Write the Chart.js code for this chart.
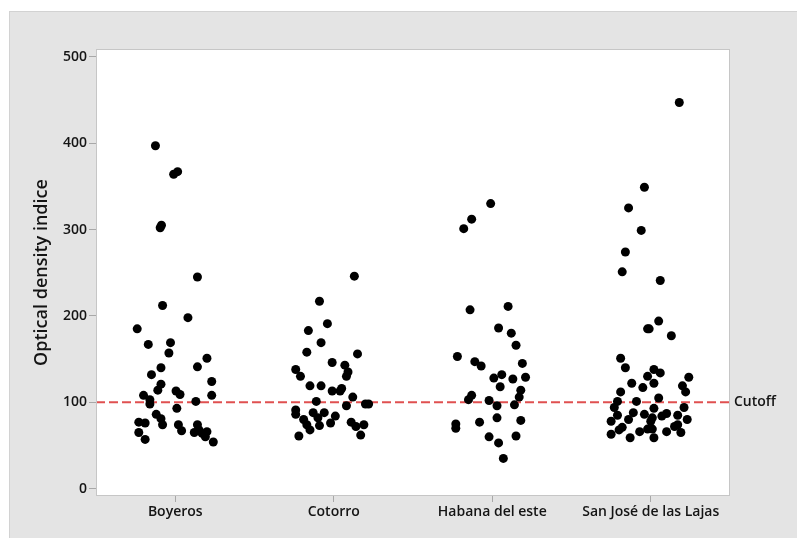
<!DOCTYPE html>
<html>
<head>
<meta charset="utf-8">
<script src="https://cdn.jsdelivr.net/npm/chart.js@4"></script>
<style>
  body { margin: 0; background: #fff; }
  #panel { position: absolute; left: 9px; top: 11px; width: 788px; height: 527px;
           background: #e4e4e4; border-left: 1px solid #d2d2d2; border-top: 1px solid #d2d2d2; }
  #wrap { position: absolute; left: 0; top: 0; width: 797px; height: 538px; }
</style>
</head>
<body>
<div id="panel"></div>
<div id="wrap"><canvas id="chart"></canvas></div>
<script>
// categories / ticks
const categories = ['Boyeros', 'Cotorro', 'Habana del este', 'San José de las Lajas'];
const yTicks = [0, 100, 200, 300, 400, 500];
const cutoff = 100;

// values, jitter = horizontal offset within a category
const boyerosValues = [397, 364, 367, 302, 305, 245, 212, 198, 185, 167, 169, 157, 151, 141, 140, 132, 124, 121, 114, 113, 109, 108, 108, 103, 98, 101, 93, 86, 81, 74, 77, 76, 74, 67, 65, 57, 74, 65, 68, 64, 66, 60, 54];
const boyerosJitter = [-0.125, -0.01, 0.015, -0.095, -0.087, 0.14, -0.08, 0.08, -0.24, -0.17, -0.03, -0.04, 0.2, 0.14, -0.09, -0.15, 0.23, -0.09, -0.11, 0.005, 0.03, 0.23, -0.2, -0.16, -0.16, 0.13, 0.01, -0.12, -0.09, -0.08, -0.23, -0.19, 0.02, 0.04, -0.23, -0.19, 0.14, 0.12, 0.15, 0.17, 0.2, 0.19, 0.24];

const cotorroValues = [246, 217, 191, 183, 169, 158, 156, 146, 143, 138, 135, 130, 130, 119, 119, 116, 113, 113, 106, 101, 96, 98, 98, 91, 86, 88, 88, 80, 82, 84, 76, 74, 73, 68, 77, 72, 74, 62, 61];
const cotorroJitter = [0.13, -0.09, -0.04, -0.16, -0.08, -0.17, 0.15, -0.01, 0.07, -0.24, 0.09, -0.21, 0.08, -0.15, -0.08, 0.05, -0.01, 0.04, 0.12, -0.11, 0.08, 0.2, 0.22, -0.24, -0.24, -0.13, -0.06, -0.19, -0.1, 0.01, -0.02, -0.17, -0.09, -0.15, 0.11, 0.14, 0.19, 0.17, -0.22];

const habanaValues = [330, 312, 301, 207, 211, 186, 180, 166, 153, 147, 142, 145, 132, 128, 127, 129, 118, 114, 106, 108, 103, 102, 96, 97, 75, 70, 77, 82, 79, 60, 53, 61, 35];
const habanaJitter = [-0.01, -0.13, -0.18, -0.14, 0.1, 0.04, 0.12, 0.15, -0.22, -0.11, -0.07, 0.19, 0.06, 0.01, 0.13, 0.21, 0.05, 0.18, 0.17, -0.13, -0.15, -0.02, 0.03, 0.14, -0.23, -0.23, -0.08, 0.03, 0.18, -0.02, 0.04, 0.15, 0.07];

const sanJoseValues = [447, 349, 325, 299, 274, 251, 241, 194, 185, 185, 177, 151, 140, 138, 134, 130, 129, 122, 122, 117, 119, 112, 112, 105, 101, 101, 94, 93, 94, 85, 88, 86, 87, 82, 84, 85, 78, 80, 80, 78, 74, 71, 69, 66, 66, 72, 65, 63, 68, 59, 69, 59];
const sanJoseJitter = [0.18, -0.04, -0.14, -0.06, -0.16, -0.18, 0.06, 0.05, -0.02, -0.01, 0.13, -0.19, -0.16, 0.02, 0.06, -0.02, 0.24, -0.12, 0.02, -0.05, 0.2, 0.22, -0.19, 0.05, -0.21, -0.09, -0.23, 0.02, 0.21, -0.21, -0.11, -0.04, 0.1, 0.01, 0.07, 0.17, -0.25, -0.14, 0.23, 0, 0.17, -0.18, 0.01, -0.07, 0.1, 0.15, 0.19, -0.25, -0.2, -0.13, -0.02, 0.02];

const groups = [
  [boyerosValues, boyerosJitter],
  [cotorroValues, cotorroJitter],
  [habanaValues, habanaJitter],
  [sanJoseValues, sanJoseJitter],
];

const FONT = '"Open Sans", "Noto Sans", sans-serif';
const TEXT = '#141414';

// 白いプロット領域・枠・カットオフ線
const plotDecor = {
  id: 'plotDecor',
  beforeDraw(chart) {
    const {ctx, chartArea: a} = chart;
    ctx.save();
    ctx.fillStyle = '#ffffff';
    ctx.fillRect(a.left, a.top, a.right - a.left, a.bottom - a.top);
    ctx.restore();
  },
  beforeDatasetsDraw(chart) {
    const {ctx, chartArea: a} = chart;
    const y = chart.scales.y.getPixelForValue(cutoff);
    ctx.save();
    ctx.strokeStyle = '#e05050';
    ctx.lineWidth = 2;
    ctx.setLineDash([9, 4]);
    ctx.beginPath();
    ctx.moveTo(a.left, y);
    ctx.lineTo(a.right, y);
    ctx.stroke();
    ctx.restore();
  },
  afterDraw(chart) {
    const {ctx, chartArea: a} = chart;
    ctx.save();
    ctx.strokeStyle = '#c6c6c6';
    ctx.lineWidth = 1;
    ctx.strokeRect(a.left + 0.5, a.top + 0.5, a.right - a.left - 1, a.bottom - a.top - 1);
    const y = chart.scales.y.getPixelForValue(cutoff);
    ctx.fillStyle = TEXT;
    ctx.font = '600 14px ' + FONT;
    ctx.textBaseline = 'middle';
    ctx.textAlign = 'left';
    ctx.fillText('Cutoff', a.right + 4, y);
    ctx.restore();
  }
};

const datasets = groups.map((g, i) => ({
  label: categories[i],
  data: g[0].map((v, k) => ({x: i + 1 + g[1][k], y: v})),
  backgroundColor: '#000',
  borderWidth: 0,
  pointRadius: 4.5,
  pointHoverRadius: 4.5,
}));

new Chart(document.getElementById('chart'), {
  type: 'scatter',
  data: {datasets: datasets},
  plugins: [plotDecor],
  options: {
    responsive: true,
    maintainAspectRatio: false,
    animation: false,
    events: [],
    layout: {padding: {left: 0, right: 67, top: 49, bottom: 0}},
    plugins: {legend: {display: false}, tooltip: {enabled: false}},
    scales: {
      x: {
        type: 'linear',
        min: 0.5,
        max: 4.5,
        afterBuildTicks: s => { s.ticks = categories.map((c, i) => ({value: i + 1})); },
        afterFit: s => { s.height = 42; },
        grid: {drawOnChartArea: false, drawTicks: true, tickLength: 6, color: '#a8a8a8'},
        border: {display: false},
        ticks: {
          callback: v => categories[v - 1],
          color: TEXT,
          font: {family: FONT, size: 14, weight: '600'},
          padding: 2,
          maxRotation: 0,
          autoSkip: false,
        },
      },
      y: {
        min: -8.5,
        max: 509,
        afterBuildTicks: s => { s.ticks = yTicks.map(v => ({value: v})); },
        afterFit: s => { s.width = 96; },
        grid: {drawOnChartArea: false, drawTicks: true, tickLength: 7, color: '#a8a8a8'},
        border: {display: false},
        ticks: {
          color: TEXT,
          font: {family: FONT, size: 14, weight: '600'},
          padding: 2,
        },
        title: {
          display: true,
          text: 'Optical density indice',
          color: TEXT,
          font: {family: FONT, size: 18, weight: '600'},
          padding: {top: 31, bottom: 0},
        },
      },
    },
  },
});
</script>
</body>
</html>
